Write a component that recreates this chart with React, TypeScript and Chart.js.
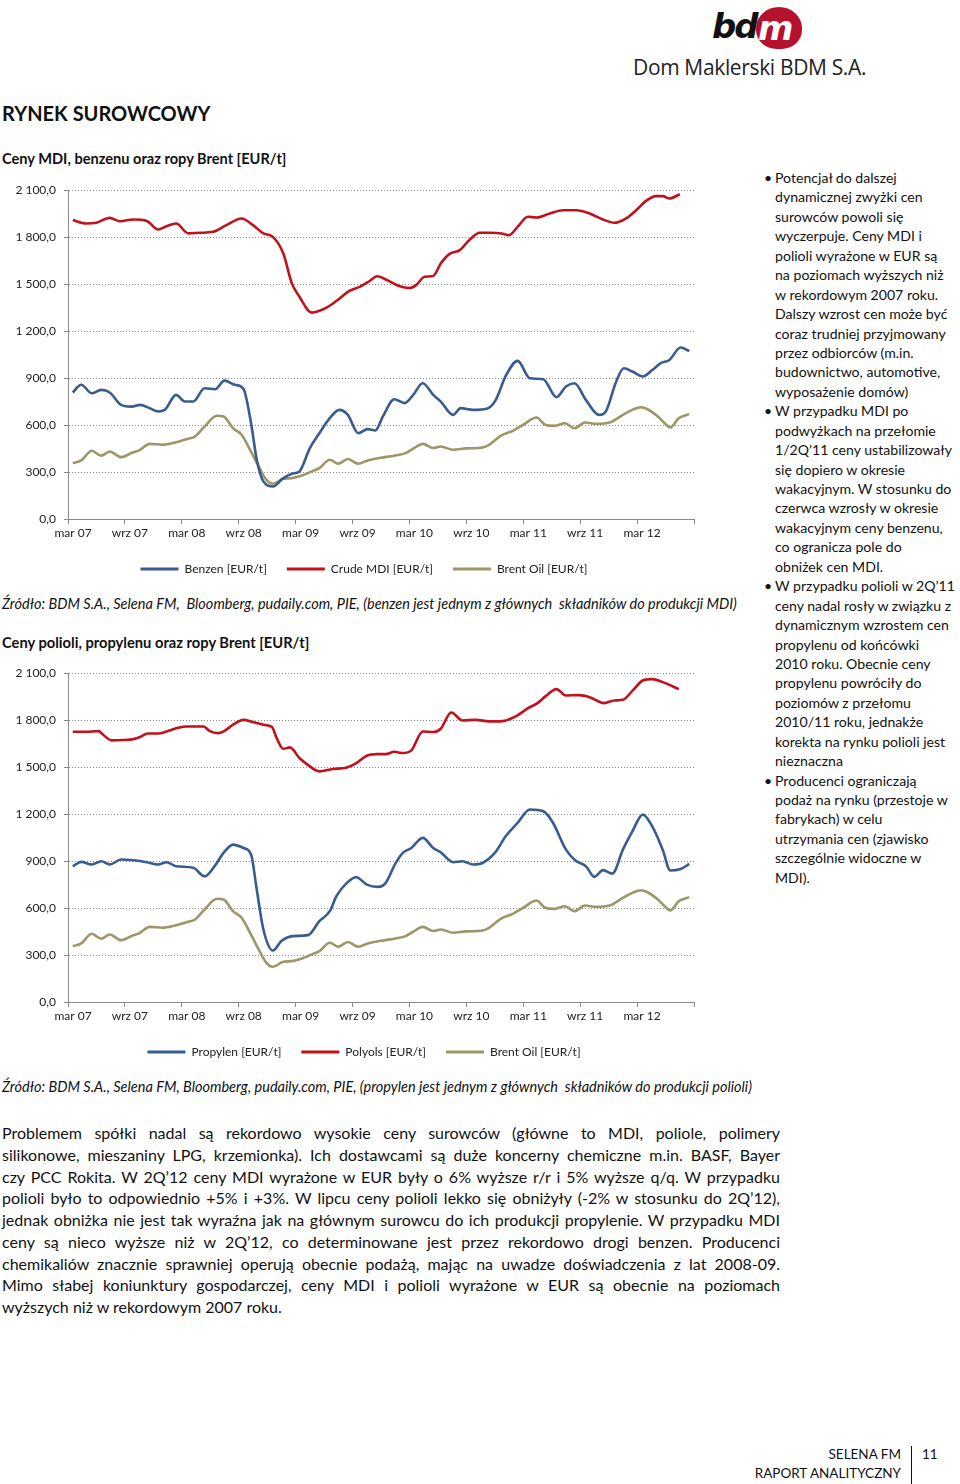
import React, { useEffect, useRef } from 'react';
import { Chart, registerables } from 'chart.js';

Chart.register(...registerables);

// ---------- DATA (x = months since Mar 2007) ----------
const xTickLabels = ['mar 07', 'wrz 07', 'mar 08', 'wrz 08', 'mar 09', 'wrz 09', 'mar 10', 'wrz 10', 'mar 11', 'wrz 11', 'mar 12'];

const mdiMonths = [0.5, 1.9, 3.0, 4.4, 5.5, 6.9, 8.3, 9.5, 10.4, 11.4, 12.7, 13.9, 15.3, 16.7, 18.3, 19.5, 20.6, 21.6, 22.7, 23.6, 24.4, 25.7, 27.1, 28.3, 29.7, 30.8, 31.8, 32.6, 33.5, 34.9, 36.0, 36.7, 37.6, 38.5, 39.3, 40.2, 41.3, 42.3, 43.4, 44.4, 45.7, 46.5, 47.4, 48.5, 49.4, 50.8, 52.2, 53.6, 55.0, 56.4, 57.6, 58.8, 59.9, 60.9, 62.0, 62.7, 63.4, 64.5];
const mdiValues = [1909, 1887, 1892, 1923, 1902, 1913, 1904, 1849, 1870, 1887, 1824, 1828, 1834, 1877, 1919, 1877, 1824, 1802, 1696, 1505, 1420, 1318, 1345, 1392, 1458, 1484, 1520, 1550, 1530, 1488, 1475, 1494, 1547, 1552, 1632, 1692, 1717, 1781, 1828, 1828, 1824, 1813, 1866, 1930, 1926, 1951, 1972, 1972, 1951, 1913, 1892, 1919, 1972, 2030, 2062, 2062, 2047, 2074];

const benzenMonths = [0.5, 1.4, 2.5, 3.5, 4.4, 5.6, 6.7, 7.6, 8.6, 9.5, 10.2, 11.4, 12.3, 13.2, 14.4, 15.5, 16.5, 17.6, 18.5, 19.3, 19.9, 20.6, 21.6, 22.7, 23.6, 24.4, 25.5, 26.5, 27.6, 28.6, 29.5, 30.6, 31.6, 32.4, 33.2, 34.4, 35.5, 36.4, 37.4, 38.5, 39.3, 40.6, 41.4, 42.7, 44.3, 45.1, 46.2, 47.4, 48.7, 50.1, 51.5, 52.5, 53.4, 54.6, 56.0, 56.7, 57.8, 58.6, 59.5, 60.6, 61.6, 62.5, 63.4, 64.6, 65.5];
const benzenValues = [808, 857, 803, 825, 808, 729, 718, 729, 708, 687, 697, 793, 750, 750, 835, 829, 884, 857, 831, 612, 378, 240, 208, 261, 289, 304, 453, 548, 644, 697, 665, 548, 574, 565, 655, 765, 740, 793, 867, 793, 750, 665, 708, 697, 708, 761, 920, 1010, 899, 893, 778, 846, 867, 761, 665, 687, 878, 963, 942, 910, 952, 995, 1016, 1095, 1073];

const brentMonths = [0.5, 1.4, 2.5, 3.5, 4.4, 5.6, 6.7, 7.6, 8.6, 10.0, 11.1, 12.5, 13.4, 14.4, 15.7, 16.4, 17.4, 18.3, 19.2, 20.1, 20.9, 21.6, 22.7, 23.6, 24.6, 25.7, 26.5, 27.6, 28.5, 29.5, 30.6, 31.6, 32.8, 34.5, 35.6, 36.5, 37.4, 38.5, 39.3, 40.6, 42.0, 43.7, 44.4, 45.7, 46.9, 48.0, 49.4, 50.3, 51.3, 52.4, 53.4, 54.5, 55.7, 57.1, 58.5, 59.5, 60.4, 61.1, 62.1, 63.0, 63.5, 64.4, 65.5];
const brentValues = [357, 374, 436, 404, 431, 395, 421, 442, 480, 474, 485, 510, 527, 591, 659, 655, 580, 538, 442, 336, 251, 225, 257, 261, 276, 304, 325, 378, 353, 383, 353, 374, 389, 406, 421, 453, 480, 453, 463, 442, 451, 457, 474, 534, 563, 602, 648, 602, 595, 612, 580, 616, 608, 616, 665, 697, 714, 701, 659, 606, 585, 644, 670];

const polyolsMonths = [0.5, 1.9, 3.2, 3.7, 4.6, 5.8, 6.9, 7.6, 8.4, 9.5, 10.4, 11.6, 12.5, 14.3, 14.9, 15.8, 16.5, 17.4, 18.5, 19.5, 20.6, 21.5, 22.0, 22.7, 23.4, 24.4, 25.5, 26.5, 27.9, 29.4, 30.4, 31.5, 32.6, 33.5, 34.4, 35.3, 36.2, 37.4, 38.5, 39.3, 40.4, 41.6, 43.0, 44.4, 45.8, 47.2, 48.5, 49.5, 50.4, 51.5, 52.5, 53.9, 55.0, 56.5, 57.6, 58.5, 59.5, 60.6, 61.6, 62.7, 64.4];
const polyolsValues = [1726, 1726, 1730, 1707, 1671, 1673, 1679, 1692, 1715, 1715, 1728, 1751, 1760, 1760, 1732, 1717, 1732, 1771, 1802, 1788, 1771, 1756, 1686, 1617, 1626, 1558, 1505, 1473, 1488, 1498, 1526, 1573, 1583, 1583, 1598, 1590, 1607, 1728, 1724, 1745, 1849, 1798, 1802, 1792, 1794, 1824, 1877, 1909, 1955, 1998, 1958, 1960, 1947, 1909, 1926, 1930, 1987, 2053, 2062, 2043, 1998];

const propylenMonths = [0.5, 1.4, 2.5, 3.5, 4.4, 5.6, 6.9, 8.3, 9.5, 10.4, 11.4, 13.2, 14.4, 15.5, 16.4, 17.4, 18.5, 19.3, 19.9, 20.6, 21.6, 22.5, 23.7, 25.3, 26.5, 27.6, 28.3, 29.4, 30.4, 31.5, 32.7, 33.5, 34.5, 35.3, 36.2, 37.4, 38.5, 39.3, 40.6, 41.6, 42.7, 43.7, 45.0, 46.2, 47.4, 48.7, 50.1, 51.1, 52.5, 53.5, 54.6, 55.5, 56.4, 57.4, 58.5, 59.5, 60.6, 61.6, 62.7, 63.5, 64.6, 65.5];
const propylenValues = [867, 895, 878, 899, 878, 910, 905, 893, 878, 893, 867, 857, 803, 871, 952, 1005, 984, 942, 718, 463, 329, 389, 421, 427, 516, 580, 676, 761, 797, 750, 735, 761, 882, 952, 984, 1048, 984, 956, 893, 899, 878, 888, 952, 1063, 1144, 1229, 1218, 1148, 973, 903, 867, 799, 842, 820, 973, 1090, 1197, 1122, 973, 840, 850, 882];

// ---------- STYLE ----------
const FONT = 'Lato, "Noto Sans", sans-serif';
const BLUE = '#385c8f';
const RED = '#c0121c';
const OLIVE = '#9c9668';
const GRID = '#8a8a8a';

type Series = { label: string; color: string; months: number[]; values: number[] };

const chart1Series: Series[] = [
  { label: 'Benzen [EUR/t]', color: BLUE, months: benzenMonths, values: benzenValues },
  { label: 'Crude MDI [EUR/t]', color: RED, months: mdiMonths, values: mdiValues },
  { label: 'Brent Oil [EUR/t]', color: OLIVE, months: brentMonths, values: brentValues },
];
const chart2Series: Series[] = [
  { label: 'Propylen [EUR/t]', color: BLUE, months: propylenMonths, values: propylenValues },
  { label: 'Polyols [EUR/t]', color: RED, months: polyolsMonths, values: polyolsValues },
  { label: 'Brent Oil [EUR/t]', color: OLIVE, months: brentMonths, values: brentValues },
];

function formatPl(v: number): string {
  const s = Math.round(v).toString().replace(/\B(?=(\d{3})+(?!\d))/g, ' ');
  return s + ',0';
}

// shifts the (library-drawn) legend so it is centred like the original Excel legend
const legendShift = {
  id: 'legendShift',
  afterLayout(chart: any) {
    const lg = chart.legend;
    if (lg) {
      lg.left += 17;
      lg.right += 17;
    }
  },
};

function LineChart({ series, top }: { series: Series[]; top: number }) {
  const ref = useRef<HTMLCanvasElement>(null);
  useEffect(() => {
    const chart = new Chart(ref.current as HTMLCanvasElement, {
      type: 'line',
      data: {
        datasets: series.map((s) => ({
          label: s.label,
          data: s.months.map((m, i) => ({ x: m, y: s.values[i] })),
          borderColor: s.color,
          backgroundColor: s.color,
          borderWidth: 2.6,
          pointRadius: 0,
          cubicInterpolationMode: 'monotone' as const,
          fill: false,
        })),
      },
      plugins: [legendShift],
      options: {
        animation: false,
        responsive: false,
        maintainAspectRatio: false,
        layout: { padding: { top: 4, right: 66, bottom: 0, left: 0 } },
        plugins: {
          legend: {
            position: 'bottom',
            labels: {
              boxWidth: 38,
              boxHeight: 3,
              padding: 20,
              color: '#222',
              font: { family: FONT, size: 12 },
              generateLabels: (c: any) =>
                (Chart.defaults.plugins.legend.labels as any).generateLabels(c).map((l: any) => ({ ...l, lineWidth: 0 })),
            },
          },
          tooltip: { enabled: false },
        },
        scales: {
          x: {
            type: 'linear',
            min: 0,
            max: 66,
            afterFit: (s: any) => { s.height = 24; },
            ticks: {
              stepSize: 6,
              autoSkip: false,
              maxRotation: 0,
              labelOffset: 5,
              padding: 2,
              color: '#222',
              font: { family: FONT, size: 12 },
              callback: (v: any) => xTickLabels[Math.round(Number(v) / 6)] ?? '',
            },
            grid: { drawOnChartArea: false, tickLength: 5, color: GRID },
            border: { color: GRID, width: 1 },
          },
          y: {
            min: 0,
            max: 2100,
            afterFit: (s: any) => { s.width = 68; },
            ticks: {
              stepSize: 300,
              padding: 8,
              color: '#222',
              font: { family: FONT, size: 12 },
              callback: (v: any) => formatPl(Number(v)),
            },
            grid: { color: GRID, tickLength: 4, tickColor: GRID, lineWidth: 1 },
            border: { color: GRID, width: 1, dash: [1, 2] },
          },
        },
      },
    } as any);
    return () => chart.destroy();
  }, []);
  return (
    <canvas
      ref={ref}
      width={760}
      height={410}
      style={{ position: 'absolute', left: 0, top, width: 760, height: 410 }}
    />
  );
}

const sidebarBullets: string[][] = [
  ['Potencjał do dalszej', 'dynamicznej zwyżki cen', 'surowców powoli się', 'wyczerpuje. Ceny MDI i', 'polioli wyrażone w EUR są', 'na poziomach wyższych niż', 'w rekordowym 2007 roku.', 'Dalszy wzrost cen może być', 'coraz trudniej przyjmowany', 'przez odbiorców (m.in.', 'budownictwo, automotive,', 'wyposażenie domów)'],
  ['W przypadku MDI po', 'podwyżkach na przełomie', '1/2Q’11 ceny ustabilizowały', 'się dopiero w okresie', 'wakacyjnym. W stosunku do', 'czerwca wzrosły w okresie', 'wakacyjnym ceny benzenu,', 'co ogranicza pole do', 'obniżek cen MDI.'],
  ['W przypadku polioli w 2Q’11', 'ceny nadal rosły w związku z', 'dynamicznym wzrostem cen', 'propylenu od końcówki', '2010 roku. Obecnie ceny', 'propylenu powróciły do', 'poziomów z przełomu', '2010/11 roku, jednakże', 'korekta na rynku polioli jest', 'nieznaczna'],
  ['Producenci ograniczają', 'podaż na rynku (przestoje w', 'fabrykach) w celu', 'utrzymania cen (zjawisko', 'szczególnie widoczne w', 'MDI).'],
];

const paragraphLines = [
  'Problemem spółki nadal są rekordowo wysokie ceny surowców (główne to MDI, poliole, polimery',
  'silikonowe, mieszaniny LPG, krzemionka). Ich dostawcami są duże koncerny chemiczne m.in. BASF, Bayer',
  'czy PCC Rokita.  W 2Q’12 ceny MDI wyrażone w EUR były o 6% wyższe r/r i 5% wyższe q/q. W przypadku',
  'polioli było to odpowiednio +5% i +3%. W lipcu ceny polioli lekko się obniżyły (-2% w stosunku do 2Q’12),',
  'jednak obniżka nie jest tak wyraźna jak na głównym surowcu do ich produkcji propylenie. W przypadku MDI',
  'ceny są nieco wyższe niż w 2Q’12, co determinowane jest przez rekordowo drogi benzen. Producenci',
  'chemikaliów znacznie sprawniej operują obecnie podażą, mając na uwadze doświadczenia z lat 2008-09.',
  'Mimo słabej koniunktury gospodarczej, ceny MDI i polioli wyrażone w EUR są obecnie na poziomach',
  'wyższych niż w rekordowym 2007 roku.',
];

const abs = (left: number, top: number, extra: React.CSSProperties = {}): React.CSSProperties => ({
  position: 'absolute', left, top, margin: 0, whiteSpace: 'nowrap', ...extra,
});

export default function App() {
  const SIDE_LH = 19.44;
  return (
    <div style={{ position: 'absolute', left: 0, top: 0, width: 960, height: 1484, background: '#fff', fontFamily: FONT, color: '#111', overflow: 'hidden' }}>
      {/* Logo */}
      <div style={abs(712, 6, { fontFamily: '"DejaVu Sans", sans-serif', fontWeight: 900, fontStyle: 'italic', fontSize: 34, lineHeight: '40px', color: '#111', letterSpacing: -2 })}>bd</div>
      <div style={{ position: 'absolute', left: 756, top: 7, width: 46, height: 42, borderRadius: '50% 50% 45% 45%', background: '#b5122e' }} />
      <div style={abs(758, 8, { fontFamily: '"DejaVu Sans", sans-serif', fontWeight: 700, fontStyle: 'italic', fontSize: 34, lineHeight: '40px', color: '#fff' })}>m</div>
      <div style={abs(633, 53, { fontFamily: '"Open Sans", sans-serif', fontSize: 21, lineHeight: '28px', color: '#222', letterSpacing: -0.35 })}>Dom Maklerski BDM S.A.</div>

      <div style={abs(2, 100, { fontWeight: 700, fontSize: 20, lineHeight: '26px' })}>RYNEK SUROWCOWY</div>
      <div style={abs(2, 150, { fontWeight: 700, fontSize: 14.6, lineHeight: '18px' })}>Ceny MDI, benzenu oraz ropy Brent [EUR/t]</div>

      <LineChart series={chart1Series} top={175} />

      <div style={abs(2, 595, { fontStyle: 'italic', fontSize: 14.5, lineHeight: '18px' })}>Źródło: BDM S.A., Selena FM,&nbsp; Bloomberg, pudaily.com, PIE, (benzen jest jednym z głównych&nbsp; składników do produkcji MDI)</div>
      <div style={abs(2, 633, { fontWeight: 700, fontSize: 14.7, lineHeight: '18px' })}>Ceny polioli, propylenu oraz ropy Brent [EUR/t]</div>

      <LineChart series={chart2Series} top={658} />

      <div style={abs(2, 1078, { fontStyle: 'italic', fontSize: 14.5, lineHeight: '18px' })}>Źródło: BDM S.A., Selena FM, Bloomberg, pudaily.com, PIE, (propylen jest jednym z głównych&nbsp; składników do produkcji polioli)</div>

      {/* Sidebar */}
      <div style={{ position: 'absolute', left: 764, top: 168, width: 196, fontSize: 14.1, lineHeight: `${SIDE_LH}px` }}>
        {sidebarBullets.map((b, bi) => (
          <div key={bi} style={{ position: 'relative', paddingLeft: 11 }}>
            <span style={{ position: 'absolute', left: 0, top: 0 }}>•</span>
            {b.map((l, li) => (
              <div key={li} style={{ whiteSpace: 'nowrap' }}>{l}</div>
            ))}
          </div>
        ))}
      </div>

      {/* Paragraph */}
      <div style={{ position: 'absolute', left: 2, top: 1122, width: 778, fontSize: 16, lineHeight: '21.75px' }}>
        {paragraphLines.map((l, i) => (
          <div
            key={i}
            style={{
              textAlign: 'justify',
              textAlignLast: i === paragraphLines.length - 1 ? 'left' : 'justify',
            }}
          >
            {l}
          </div>
        ))}
      </div>

      {/* Footer */}
      <div style={{ position: 'absolute', right: 59, top: 1445, textAlign: 'right', fontSize: 13.5, lineHeight: '19px', color: '#111' }}>
        <div>SELENA FM</div>
        <div>RAPORT ANALITYCZNY</div>
      </div>
      <div style={{ position: 'absolute', left: 911, top: 1446, width: 1, height: 38, background: '#111' }} />
      <div style={abs(922, 1445, { fontSize: 13.5, lineHeight: '19px' })}>11</div>
    </div>
  );
}
